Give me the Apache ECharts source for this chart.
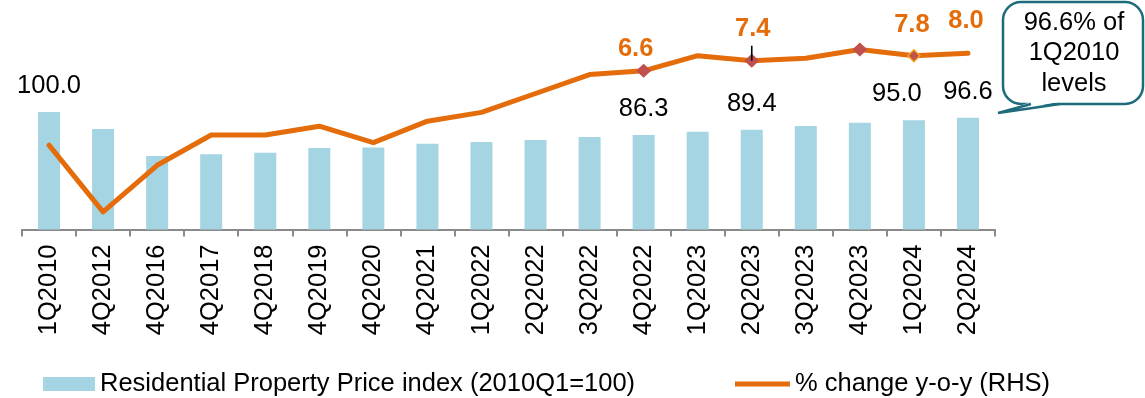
<!DOCTYPE html>
<html>
<head>
<meta charset="utf-8">
<script src="https://cdn.jsdelivr.net/npm/echarts@6/dist/echarts.min.js"></script>
<style>
  html, body { margin: 0; padding: 0; background: #fff; }
  #chart { width: 1145px; height: 398px; }
</style>
</head>
<body>
<div id="chart"></div>
<script>
// Quarters shown on the category axis
const quarters = ['1Q2010', '4Q2012', '4Q2016', '4Q2017', '4Q2018', '4Q2019', '4Q2020', '4Q2021',
  '1Q2022', '2Q2022', '3Q2022', '4Q2022', '1Q2023', '2Q2023', '3Q2023', '4Q2023', '1Q2024', '2Q2024'];

// Residential Property Price index (2010Q1 = 100), left scale
const priceIndex = [100.0, 89.8, 73.8, 74.8, 75.7, 78.5, 78.9, 81.1, 82.1, 83.3, 85.1, 86.3,
  88.2, 89.4, 91.6, 93.6, 95.0, 96.6];

// Year-on-year change in %, right scale
const yoyChange = [0.7, -4.6, -0.9, 1.5, 1.5, 2.2, 0.9, 2.6, 3.3, 4.8, 6.3, 6.6,
  7.8, 7.4, 7.6, 8.3, 7.8, 8.0];

// Which quarters carry value labels / diamond markers
const indexLabelled = ['1Q2010', '4Q2022', '2Q2023', '1Q2024', '2Q2024'];
const yoyLabelled = ['4Q2022', '2Q2023', '1Q2024', '2Q2024'];
const yoyMarked = ['4Q2022', '2Q2023', '4Q2023', '1Q2024'];

const FONT = '"Liberation Sans", Arial, sans-serif';
const FS = 25.5;
const BAR_COLOR = '#A5D5E2';
const LINE_COLOR = '#E46C0A';
const MARK_COLOR = '#C0504D';
const CALLOUT_COLOR = '#1E6B7B';

// label nudges (pixels) for the annotated points
const indexLabelShift = { '1Q2024': [-17, 0] };
const yoyLabelShift = {
  '4Q2022': [-8, -22],
  '2Q2023': [1, -32],
  '1Q2024': [-2, -31],
  '2Q2024': [-2, -32]
};

const barData = priceIndex.map((v, i) => {
  const q = quarters[i];
  const item = { value: v };
  if (indexLabelled.includes(q)) {
    item.label = {
      show: true,
      position: 'top',
      distance: 13,
      offset: indexLabelShift[q] || [0, 0],
      formatter: (p) => p.value.toFixed(1),
      fontSize: FS,
      lineHeight: 26,
      fontFamily: FONT,
      color: '#000'
    };
  }
  return item;
});

const lineData = yoyChange.map((v, i) => {
  const q = quarters[i];
  const item = { value: v };
  if (yoyMarked.includes(q)) {
    item.symbol = 'diamond';
    item.symbolSize = [15, 14];
    item.itemStyle = { color: MARK_COLOR, borderColor: MARK_COLOR, borderWidth: 0 };
    if (q === '1Q2024') {
      item.symbolSize = [12, 12];
      item.itemStyle = { color: MARK_COLOR, borderColor: '#F7A21B', borderWidth: 1.5 };
    }
  } else if (yoyLabelled.includes(q)) {
    item.symbol = 'circle';
    item.symbolSize = 1;
    item.itemStyle = { color: LINE_COLOR };
  } else {
    item.symbol = 'none';
  }
  if (yoyLabelled.includes(q)) {
    item.label = {
      show: true,
      position: 'inside',
      offset: yoyLabelShift[q],
      formatter: (p) => p.value.toFixed(1),
      fontSize: FS,
      fontWeight: 'bold',
      lineHeight: 26,
      fontFamily: FONT,
      color: LINE_COLOR
    };
  }
  return item;
});

const lastIndex = priceIndex[priceIndex.length - 1];
const calloutText = lastIndex.toFixed(1) + '% of\n' + quarters[0] + '\nlevels';

const chart = echarts.init(document.getElementById('chart'), null, { renderer: 'canvas' });

chart.setOption({
  animation: false,
  backgroundColor: '#fff',
  textStyle: { fontFamily: FONT },
  grid: {
    left: 22, right: 150, top: 28, bottom: 168.5,
    containLabel: false,
    outerBoundsMode: 'none'
  },
  legend: [
    {
      data: [{ name: 'Residential Property Price index (2010Q1=100)', icon: 'rect' }],
      left: 43, top: 371, padding: 0,
      itemWidth: 52, itemHeight: 14,
      selectedMode: false,
      textStyle: { fontSize: FS, fontFamily: FONT, color: '#000', lineHeight: 26 }
    },
    {
      data: [{ name: '% change y-o-y (RHS)', icon: 'rect' }],
      left: 735, top: 371, padding: 0,
      itemWidth: 55, itemHeight: 5,
      selectedMode: false,
      itemStyle: { color: LINE_COLOR, borderWidth: 0 },
      textStyle: { fontSize: FS, fontFamily: FONT, color: '#000', lineHeight: 26 }
    }
  ],
  xAxis: {
    type: 'category',
    data: quarters,
    boundaryGap: true,
    axisLine: { show: true, onZero: false, lineStyle: { color: '#8a8a8a', width: 2 } },
    axisTick: { show: true, length: 7, interval: 0, lineStyle: { color: '#8a8a8a', width: 2 } },
    axisLabel: {
      interval: 0, rotate: 90, margin: 15,
      fontSize: FS, fontFamily: FONT, color: '#000'
    },
    splitLine: { show: false }
  },
  yAxis: [
    { type: 'value', min: 30, max: 150, show: false, splitLine: { show: false } },
    { type: 'value', min: -6, max: 10, show: false, splitLine: { show: false } }
  ],
  series: [
    {
      name: 'Residential Property Price index (2010Q1=100)',
      type: 'bar',
      yAxisIndex: 0,
      data: barData,
      barWidth: 22,
      itemStyle: { color: BAR_COLOR },
      z: 2
    },
    {
      name: '% change y-o-y (RHS)',
      type: 'line',
      yAxisIndex: 1,
      data: lineData,
      showSymbol: true,
      showAllSymbol: true,
      lineStyle: { color: LINE_COLOR, width: 5, cap: 'round', join: 'round' },
      itemStyle: { color: LINE_COLOR },
      emphasis: { disabled: true },
      z: 3,
      markPoint: {
        silent: true,
        animation: false,
        label: { show: false },
        data: [{
          coord: ['2Q2023', yoyChange[quarters.indexOf('2Q2023')]],
          symbol: 'rect',
          symbolSize: [1.6, 15],
          symbolOffset: [0, -7.5],
          itemStyle: { color: '#000' }
        }]
      }
    }
  ],
  graphic: [
    // rounded callout box
    {
      type: 'rect',
      z: 10,
      shape: { x: 1003, y: 2, width: 140, height: 102, r: 18 },
      style: { fill: '#fff', stroke: CALLOUT_COLOR, lineWidth: 2.5 }
    },
    // white wedge that opens the box border where the pointer starts
    {
      type: 'polygon',
      z: 11,
      shape: { points: [[1031, 102], [1059, 102], [998, 113]] },
      style: { fill: '#fff' }
    },
    // pointer outline
    {
      type: 'polyline',
      z: 12,
      shape: { points: [[1031, 104], [998, 113], [1060, 104]] },
      style: { stroke: CALLOUT_COLOR, lineWidth: 2.5, fill: null, lineJoin: 'miter' }
    },
    {
      type: 'text',
      z: 13,
      x: 1074,
      y: 53,
      style: {
        text: calloutText,
        fontSize: FS,
        fontFamily: FONT,
        fill: '#000',
        align: 'center',
        verticalAlign: 'middle',
        lineHeight: 30.5
      }
    }
  ]
});
</script>
</body>
</html>
